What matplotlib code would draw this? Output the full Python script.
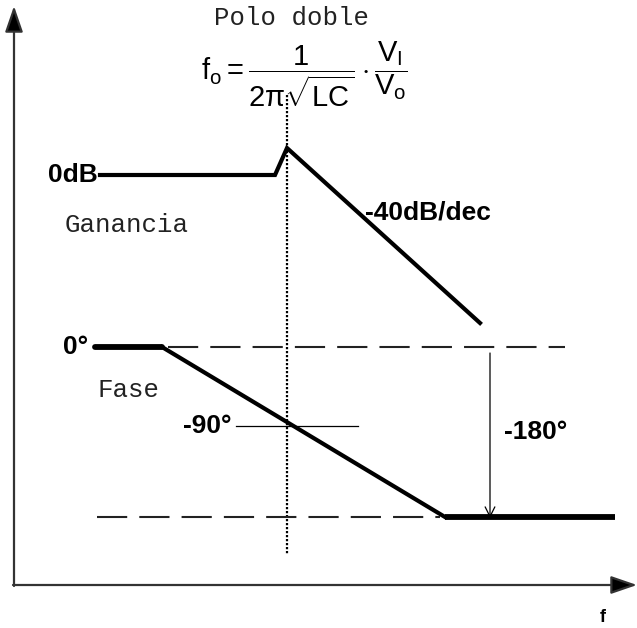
import matplotlib
matplotlib.use("Agg")
import matplotlib.pyplot as plt

plt.rcParams['mathtext.fontset'] = 'custom'
plt.rcParams['mathtext.rm'] = 'Liberation Sans'
plt.rcParams['mathtext.it'] = 'Liberation Sans'

# Diagram coordinates (pixel-like units, y grows downward)
gain_x = [100, 275, 287, 480]
gain_y = [175, 175, 148, 323]
phase_flat0_x = [95, 162]
phase_flat0_y = [347, 347]
phase_slope_x = [162, 445]
phase_slope_y = [347, 517]
phase_flat180_x = [445, 615]
phase_flat180_y = [517, 517]
ref0_x = [168, 565]
ref0_y = [347, 347]
ref180_x = [97, 440]
ref180_y = [517, 517]
fo_x = [287, 287]
fo_y = [95, 555]
m90_x = [236, 358]
m90_y = [426, 426]

fig = plt.figure(figsize=(6.37, 6.28), dpi=100)
ax = fig.add_axes([0, 0, 1, 1])
ax.set_xlim(0, 637)
ax.set_ylim(628, 0)
ax.axis('off')

# axes arrows
ax.annotate('', xy=(14, 6), xytext=(14, 586),
            arrowprops=dict(arrowstyle='-|>,head_length=1.6,head_width=0.55', color='#333333', lw=1.6,
                            shrinkA=0, shrinkB=0, fc='black'))
ax.annotate('', xy=(637, 585), xytext=(13, 585),
            arrowprops=dict(arrowstyle='-|>,head_length=1.6,head_width=0.55', color='#333333', lw=1.6,
                            shrinkA=0, shrinkB=0, fc='black'))

# dotted vertical at fo
ax.plot(fo_x, fo_y, color='black', lw=1.6, linestyle=(0, (1, 0.8)))

# gain
ax.plot(gain_x, gain_y, color='black', lw=3.0, solid_joinstyle='miter')

# phase
ax.plot(phase_flat0_x, phase_flat0_y, color='black', lw=4.2, solid_capstyle='round')
ax.plot(phase_slope_x, phase_slope_y, color='black', lw=3.0)
ax.plot(phase_flat180_x, phase_flat180_y, color='black', lw=4.2, solid_capstyle='butt')

# reference dashed lines
ax.plot(ref0_x, ref0_y, color='#222222', lw=1.5, linestyle=(0, (14.5, 5.8)))
ax.plot(ref180_x, ref180_y, color='#222222', lw=1.5, linestyle=(0, (14.5, 5.8)))

# -90 marker line
ax.plot(m90_x, m90_y, color='black', lw=0.9)

# -180 arrow
ax.annotate('', xy=(490, 518), xytext=(490, 353),
            arrowprops=dict(arrowstyle='->,head_length=0.7,head_width=0.35', color='black', lw=0.9,
                            shrinkA=0, shrinkB=0))

bold = dict(family='Liberation Sans', fontweight='bold', fontsize=19, color='black')
mono = dict(family='Liberation Mono', fontsize=18.5, color='#222222')

ax.text(98, 175, '0dB', ha='right', va='center', **bold)
ax.text(365, 212, '-40dB/dec', ha='left', va='center', **bold)
ax.text(88, 347, '0°', ha='right', va='center', **bold)
ax.text(231, 426, '-90°', ha='right', va='center', **bold)
ax.text(504, 432, '-180°', ha='left', va='center', **bold)
ax.text(603, 617, 'f', ha='center', va='center', family='Liberation Sans', fontweight='bold', fontsize=13)

ax.text(65, 225, 'Ganancia', ha='left', va='center', **mono)
ax.text(97, 390, 'Fase', ha='left', va='center', **mono)
ax.text(292, 18, 'Polo doble', ha='center', va='center', **mono)

ax.text(304, 74, r'$\mathrm{f_o} = \dfrac{1}{2\pi\sqrt{\mathrm{LC}}}\cdot\dfrac{\mathrm{V_I}}{\mathrm{V_o}}$',
        ha='center', va='center', fontsize=21, color='black')

fig.savefig('out.png', dpi=100)
